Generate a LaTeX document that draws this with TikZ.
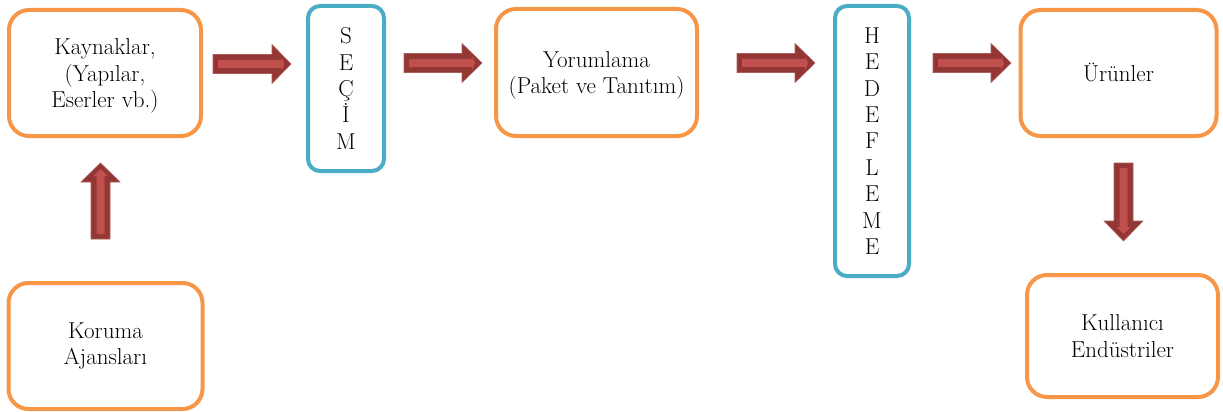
\documentclass[tikz,border=0pt]{standalone}
\usepackage{fontspec}
\definecolor{borange}{HTML}{F79646}
\definecolor{bblue}{HTML}{4BACC6}
\definecolor{adark}{HTML}{943634}
\definecolor{alight}{HTML}{C0504D}
\tikzset{
  obox/.style={draw=borange, line width=4pt, rounded corners=20pt, fill=white, inner sep=0pt},
  bbox/.style={draw=bblue, line width=4pt, rounded corners=12pt, fill=white, inner sep=0pt},
  txt/.style={font=\fontsize{23}{26.5}\selectfont, align=center},
  vtxt/.style={font=\fontsize{23}{26.4}\selectfont, align=center},
  arrout/.style={fill=adark, draw=adark!80!white, line width=0.6pt},
  arrin/.style={fill=alight},
}
\newcommand{\harrow}[4]{% x0, xh, xt, yc
  \fill[arrout] (#1,#4-9.5) -- (#2,#4-9.5) -- (#2,#4-19.5) -- (#3,#4) -- (#2,#4+19.5) -- (#2,#4+9.5) -- (#1,#4+9.5) -- cycle;
  \fill[arrin] (#1+5,#4-4) -- (#2+10,#4-4) -- (#2+10,#4-7) -- (#3-7,#4) -- (#2+10,#4+7) -- (#2+10,#4+4) -- (#1+5,#4+4) -- cycle;
}
\begin{document}
\begin{tikzpicture}[x=1pt,y=-1pt]
\useasboundingbox (0,0) rectangle (1223,412);
% boxes
\node[obox, minimum width=192pt, minimum height=126pt] (kay) at (105,73) {};
\node[txt] (kayt) at ([yshift=-3pt]kay.center) {Kaynaklar,\\(Yapılar,\\Eserler vb.)};
\node[bbox, minimum width=76pt, minimum height=165pt] (sec) at (346,88.5) {};
\node[vtxt] (sect) at (sec.center) {S\\E\\Ç\\İ\\M};
\node[obox, minimum width=201pt, minimum height=127pt] (yor) at (596.5,72.5) {};
\node[txt] (yort) at ([yshift=-3pt]yor.center) {Yorumlama\\(Paket ve Tanıtım)};
\node[bbox, minimum width=74pt, minimum height=270pt] (hed) at (872,141) {};
\node[vtxt] (hedt) at (hed.center) {H\\E\\D\\E\\F\\L\\E\\M\\E};
\node[obox, minimum width=196pt, minimum height=126pt] (uru) at (1118.5,73) {};
\node[txt] (urut) at ([yshift=1pt]uru.center) {Ürünler};
\node[obox, minimum width=194pt, minimum height=126pt] (kor) at (105.5,346) {};
\node[txt] (kort) at (kor.center) {Koruma\\Ajansları};
\node[obox, minimum width=191pt, minimum height=122pt] (kul) at (1122.5,336) {};
\node[txt] (kult) at (kul.center) {Kullanıcı\\Endüstriler};
% horizontal block arrows
\harrow{213}{272}{291}{64}
\harrow{404}{462}{482}{63}
\harrow{737}{795}{815}{63}
\harrow{933}{991}{1011}{63}
% up arrow
\fill[arrout] (91,239) -- (91,182) -- (81,182) -- (100.5,163) -- (120,182) -- (110,182) -- (110,239) -- cycle;
\fill[arrin] (96.5,234) -- (96.5,176) -- (93.5,176) -- (100.5,169) -- (107.5,176) -- (104.5,176) -- (104.5,234) -- cycle;
% down arrow
\fill[arrout] (1114,163) -- (1114,221) -- (1104,221) -- (1123.5,241) -- (1143,221) -- (1133,221) -- (1133,163) -- cycle;
\fill[arrin] (1119.5,168) -- (1119.5,227) -- (1116.5,227) -- (1123.5,234) -- (1130.5,227) -- (1127.5,227) -- (1127.5,168) -- cycle;
\end{tikzpicture}
\end{document}
